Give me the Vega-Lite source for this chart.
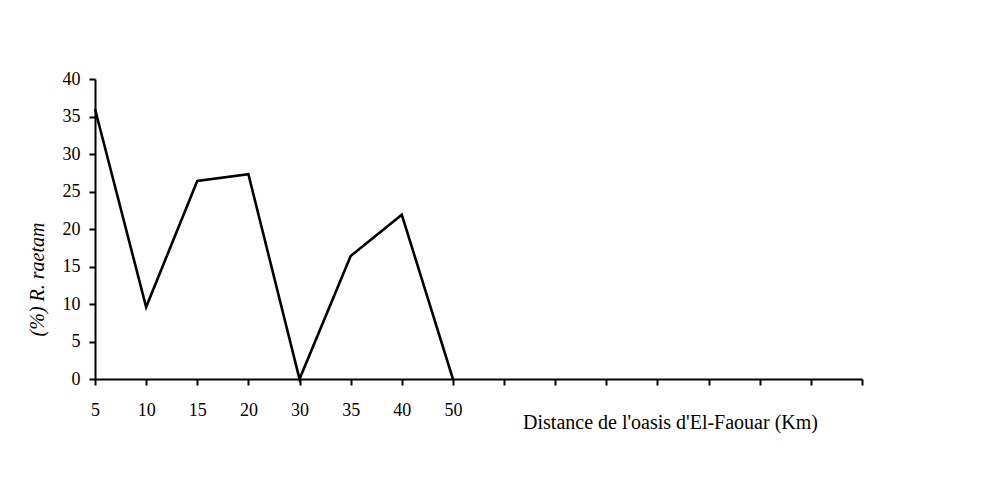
{
  "$schema": "https://vega.github.io/schema/vega-lite/v6.json",
  "width": 767,
  "height": 300,
  "autosize": {"type": "none"},
  "padding": {"left": 95, "top": 79, "right": 124, "bottom": 98},
  "background": "white",
  "config": {
    "view": {"stroke": null},
    "font": "Liberation Serif"
  },
  "data": {
    "values": [
      {"distance": "5", "pct": 36.0},
      {"distance": "10", "pct": 9.6},
      {"distance": "15", "pct": 26.4},
      {"distance": "20", "pct": 27.3},
      {"distance": "30", "pct": 0},
      {"distance": "35", "pct": 16.4},
      {"distance": "40", "pct": 21.9},
      {"distance": "50", "pct": 0}
    ]
  },
  "mark": {"type": "line", "color": "black", "strokeWidth": 2.6, "strokeJoin": "miter"},
  "encoding": {
    "x": {
      "field": "distance",
      "type": "ordinal",
      "sort": null,
      "scale": {
        "type": "point",
        "padding": 0,
        "domain": ["5", "10", "15", "20", "30", "35", "40", "50", "e1", "e2", "e3", "e4", "e5", "e6", "e7", "e8"]
      },
      "axis": {
        "title": "Distance  de l'oasis d'El-Faouar (Km)",
        "titleFont": "Liberation Serif",
        "titleFontSize": 20,
        "titleFontWeight": "normal",
        "titleColor": "black",
        "titleX": 575,
        "titleY": 43,
        "titleBaseline": "middle",
        "titleAnchor": "middle",
        "titleAlign": "center",
        "labelExpr": "indexof(datum.value, 'e') == 0 ? '' : datum.label",
        "labelAngle": 0,
        "labelFont": "Liberation Serif",
        "labelFontSize": 18,
        "labelColor": "black",
        "labelPadding": 16,
        "labelBaseline": "top",
        "tickSize": 6,
        "tickWidth": 2,
        "tickColor": "black",
        "domainColor": "black",
        "domainWidth": 2,
        "grid": false
      }
    },
    "y": {
      "field": "pct",
      "type": "quantitative",
      "scale": {"domain": [0, 40], "nice": false},
      "axis": {
        "title": "(%) R. raetam",
        "titleFont": "Liberation Serif",
        "titleFontSize": 20,
        "titleFontWeight": "normal",
        "titleFontStyle": "italic",
        "titleColor": "black",
        "titleX": -58,
        "titleY": 200,
        "titleAngle": -90,
        "titleBaseline": "middle",
        "titleAnchor": "middle",
        "values": [0, 5, 10, 15, 20, 25, 30, 35, 40],
        "labelFont": "Liberation Serif",
        "labelFontSize": 18,
        "labelColor": "black",
        "labelPadding": 9,
        "tickSize": 6,
        "tickWidth": 2,
        "tickColor": "black",
        "domainColor": "black",
        "domainWidth": 2,
        "grid": false
      }
    }
  }
}
